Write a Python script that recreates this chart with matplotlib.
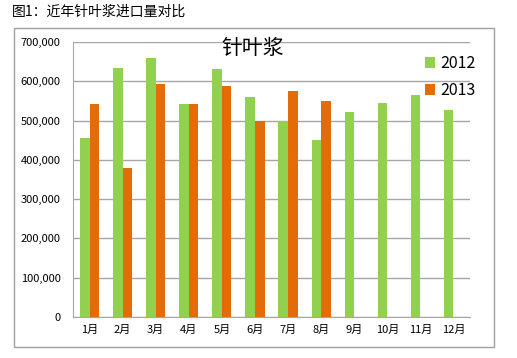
import numpy as np
import matplotlib.pyplot as plt
from matplotlib.patches import Rectangle

plt.rcParams['font.family'] = ['Noto Sans CJK SC', 'DejaVu Sans']

months = ['1月', '2月', '3月', '4月', '5月', '6月', '7月', '8月', '9月', '10月', '11月', '12月']
v2012 = [455000, 635000, 660000, 542000, 630000, 561000, 500000, 450000, 523000, 545000, 565000, 527000]
v2013 = [542000, 380000, 593000, 542000, 589000, 500000, 575000, 550000]

green = '#92D050'
orange = '#E36C09'

fig = plt.figure(figsize=(5.17, 3.58), dpi=100)

# caption above the chart box
fig.text(0.023, 0.966, '图1：近年针叶浆进口量对比', fontsize=10, va='center', ha='left')

# chart box border
fig.patches.append(Rectangle((0.027, 0.031), 0.928, 0.891, transform=fig.transFigure,
                             fill=False, edgecolor='#a0a0a0', linewidth=1))

ax = fig.add_axes([0.1412, 0.1145, 0.7679, 0.7682])
x = np.arange(len(months))
w = 0.29
ax.bar(x[:len(v2012)] - w / 2, v2012, width=w, color=green, label='2012', zorder=3)
ax.bar(x[:len(v2013)] + w / 2, v2013, width=w, color=orange, label='2013', zorder=3)

ax.set_xlim(-0.5, 11.5)
ax.set_ylim(0, 700000)
ax.set_yticks(np.arange(0, 700001, 100000))
ax.set_yticklabels(['0'] + [f'{v:,}' for v in range(100000, 700001, 100000)], fontsize=8)
ax.set_xticks(x)
ax.set_xticklabels(months, fontsize=8)
ax.tick_params(axis='y', length=0, pad=9)
ax.tick_params(axis='x', length=0, pad=6)
ax.grid(axis='y', color='#a6a6a6', linewidth=1, zorder=0)
for s in ['top', 'right']:
    ax.spines[s].set_visible(False)
ax.spines['left'].set_color('#a6a6a6')
ax.spines['bottom'].set_color('#a6a6a6')

ax.text(0.453, 0.978, '针叶浆', transform=ax.transAxes, fontsize=15, ha='center', va='center')

ax.legend(loc='upper right', bbox_to_anchor=(1.05, 1.005), frameon=False, fontsize=11.5,
          handlelength=0.65, handleheight=0.65, handletextpad=0.3, labelspacing=0.65)

fig.savefig('out.png', dpi=100)
